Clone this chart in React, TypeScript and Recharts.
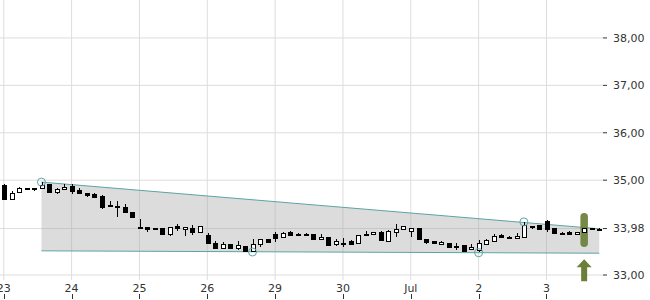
import { Area, Bar, CartesianGrid, ComposedChart, ReferenceArea, ReferenceDot, XAxis, YAxis } from 'recharts';

const dayLabels = ['23', '24', '25', '26', '29', '30', 'Jul', '2', '3'];
const candlesPerDay = 9;

// hourly candles: open, high, low, close
const candles: [number, number, number, number][] = [
  // 23
  [34.90, 34.91, 34.59, 34.60], [34.60, 34.77, 34.60, 34.73], [34.75, 34.85, 34.75, 34.84],
  [34.84, 34.84, 34.81, 34.84], [34.83, 34.84, 34.77, 34.84], [34.83, 34.96, 34.83, 34.90],
  [34.92, 34.93, 34.75, 34.75], [34.75, 34.84, 34.71, 34.81], [34.81, 34.92, 34.81, 34.86],
  // 24
  [34.88, 34.92, 34.71, 34.77], [34.79, 34.83, 34.73, 34.73], [34.73, 34.73, 34.65, 34.69],
  [34.71, 34.72, 34.64, 34.65], [34.67, 34.68, 34.39, 34.44], [34.47, 34.56, 34.44, 34.46],
  [34.45, 34.56, 34.22, 34.44], [34.44, 34.50, 34.33, 34.33], [34.33, 34.33, 34.22, 34.22],
  // 25
  [34.02, 34.18, 33.97, 34.01], [34.01, 34.02, 33.91, 33.97], [33.99, 34.00, 33.98, 33.98],
  [33.99, 33.99, 33.86, 33.87], [33.87, 34.02, 33.82, 34.01], [34.03, 34.07, 33.93, 33.99],
  [33.97, 34.02, 33.82, 34.01], [33.99, 34.05, 33.84, 33.91], [33.91, 34.04, 33.90, 34.03],
  // 26
  [33.84, 33.89, 33.67, 33.68], [33.68, 33.72, 33.56, 33.57], [33.57, 33.70, 33.56, 33.65],
  [33.65, 33.66, 33.56, 33.57], [33.57, 33.72, 33.53, 33.63], [33.61, 33.62, 33.50, 33.51],
  [33.51, 33.76, 33.49, 33.65], [33.65, 33.77, 33.59, 33.76], [33.76, 33.77, 33.69, 33.70],
  // 29
  [33.86, 33.91, 33.70, 33.78], [33.80, 33.90, 33.79, 33.89], [33.91, 33.92, 33.83, 33.84],
  [33.86, 33.88, 33.84, 33.85], [33.87, 33.88, 33.85, 33.86], [33.86, 33.87, 33.75, 33.76],
  [33.76, 33.86, 33.75, 33.80], [33.80, 33.81, 33.62, 33.63], [33.65, 33.76, 33.61, 33.72],
  // 30
  [33.68, 33.78, 33.59, 33.67], [33.72, 33.73, 33.64, 33.65], [33.67, 33.85, 33.66, 33.84],
  [33.86, 33.93, 33.86, 33.87], [33.86, 33.91, 33.86, 33.91], [33.91, 33.92, 33.73, 33.74],
  [33.72, 33.94, 33.71, 33.93], [33.91, 34.08, 33.80, 33.97], [33.97, 34.04, 33.96, 34.03],
  // Jul
  [33.93, 34.00, 33.80, 33.99], [33.99, 34.00, 33.75, 33.76], [33.76, 33.76, 33.65, 33.70],
  [33.72, 33.72, 33.67, 33.68], [33.65, 33.71, 33.64, 33.70], [33.67, 33.68, 33.58, 33.59],
  [33.61, 33.68, 33.53, 33.62], [33.63, 33.64, 33.50, 33.51], [33.55, 33.65, 33.54, 33.59],
  // 2
  [33.53, 33.74, 33.48, 33.68], [33.65, 33.75, 33.64, 33.74], [33.72, 33.86, 33.71, 33.82],
  [33.84, 33.86, 33.79, 33.80], [33.81, 33.82, 33.77, 33.78], [33.78, 33.88, 33.77, 33.82],
  [33.80, 34.12, 33.78, 34.05], [34.04, 34.04, 33.97, 34.03], [34.05, 34.06, 33.96, 33.97],
  // 3
  [34.14, 34.16, 33.91, 33.97], [33.99, 34.00, 33.88, 33.89], [33.89, 33.90, 33.87, 33.88],
  [33.91, 33.92, 33.86, 33.87], [33.87, 33.91, 33.86, 33.91], [33.91, 34.00, 33.90, 33.99],
  [33.99, 34.00, 33.97, 33.98], [33.98, 33.99, 33.97, 33.98],
];

// triangle drawn on the chart (candle index, price)
const trendTop = [{ i: 5, v: 34.96 }, { i: 79, v: 33.975 }];
const trendBottom = [{ i: 5, v: 33.51 }, { i: 79, v: 33.46 }];
const pivots = [{ i: 5, v: 34.96 }, { i: 33, v: 33.485 }, { i: 63, v: 33.47 }, { i: 69, v: 34.12 }];

// breakout signal
const signalIndex = 77;
const signalFrom = 33.59;
const signalTo = 34.31;
const arrowAt = 33.1;

const priceTicks = [33, 33.98, 35, 36, 37, 38];

const data = candles.map(([o, h, l, c], i) => {
  const top = trendTop.find(t => t.i === i);
  const bot = trendBottom.find(t => t.i === i);
  return { i, o, h, l, c, range: [l, h], band: top && bot ? [bot.v, top.v] : null };
});

const dayTicks = dayLabels.map((_, d) => d * candlesPerDay);

const teal = '#5ea3a5';
const olive = '#6b7f38';
const font = 'DejaVu Sans, Verdana, sans-serif';

function Candle(props: any) {
  const { x, y, width, height, payload } = props;
  const { o, h, l, c } = payload;
  const top = Math.min(y, y + height);
  const span = Math.abs(height);
  const px = (v: number) => (h === l ? top : top + ((h - v) / (h - l)) * span);
  const cx = Math.round(x + width / 2) + 0.5;
  const up = c > o;
  const bTop = Math.round(px(Math.max(o, c))) + 0.5;
  const bBot = Math.round(px(Math.min(o, c))) + 0.5;
  return (
    <g>
      <line x1={cx} x2={cx} y1={Math.round(top)} y2={Math.round(top + span)} stroke="#000" />
      <rect x={cx - 2} y={bTop} width={4} height={Math.max(bBot - bTop, 1)} fill={up ? '#fff' : '#000'} stroke="#000" />
    </g>
  );
}

function DayTick(props: any) {
  const { x, y, payload } = props;
  const label = dayLabels[Math.round(payload.value / candlesPerDay)];
  const lx = Math.round(x) + 0.5;
  return (
    <g>
      <text x={x} y={y + 12} textAnchor="middle" fontSize={11} fontFamily={font} fill="#333">{label}</text>
      <line x1={lx} x2={lx} y1={y + 14} y2={y + 19} stroke="#333" />
    </g>
  );
}

function Pill(props: any) {
  const { x, y, width, height } = props;
  return <rect x={x} y={y} width={width} height={height} rx={width / 2} fill={olive} fillOpacity={0.92} />;
}

function Arrow(props: any) {
  const { cx, cy } = props;
  const d = `M${cx},${cy - 11} L${cx + 7.5},${cy - 3} L${cx + 3},${cy - 3} L${cx + 3},${cy + 11} L${cx - 3},${cy + 11} L${cx - 3},${cy - 3} L${cx - 7.5},${cy - 3} Z`;
  return <path d={d} fill={olive} />;
}

export default function App() {
  return (
    <div style={{ position: 'absolute', left: 0, top: 0, background: '#fff' }}>
      <ComposedChart width={650} height={300} data={data} margin={{ top: 0, right: 0, bottom: 0, left: 0 }} barCategoryGap={0}>
        <CartesianGrid stroke="#dddddd" syncWithTicks />
        <XAxis
          dataKey="i"
          type="category"
          ticks={dayTicks}
          interval={0}
          height={20}
          axisLine={false}
          tickLine={false}
          tickSize={0}
          tickMargin={0}
          tick={<DayTick />}
        />
        <YAxis
          orientation="right"
          width={47}
          type="number"
          domain={[32.895, 38.8]}
          allowDataOverflow
          ticks={priceTicks}
          axisLine={false}
          tickSize={4}
          tickMargin={6}
          tickLine={{ stroke: '#333' }}
          tick={{ fontSize: 11, fontFamily: font, fill: '#333' }}
          tickFormatter={(v: number) => v.toFixed(2).replace('.', ',')}
        />
        <Area
          dataKey="band"
          type="linear"
          connectNulls
          stroke={teal}
          strokeWidth={1}
          fill="#a8a8a8"
          fillOpacity={0.4}
          dot={false}
          activeDot={false}
          isAnimationActive={false}
        />
        <ReferenceArea x1={signalIndex} x2={signalIndex} y1={signalFrom} y2={signalTo} shape={<Pill />} />
        <Bar dataKey="range" shape={<Candle />} isAnimationActive={false} />
        {pivots.map(p => (
          <ReferenceDot key={p.i} x={p.i} y={p.v} r={4} fill="none" stroke={teal} strokeWidth={1} />
        ))}
        <ReferenceDot x={signalIndex} y={arrowAt} shape={<Arrow />} />
      </ComposedChart>
    </div>
  );
}
